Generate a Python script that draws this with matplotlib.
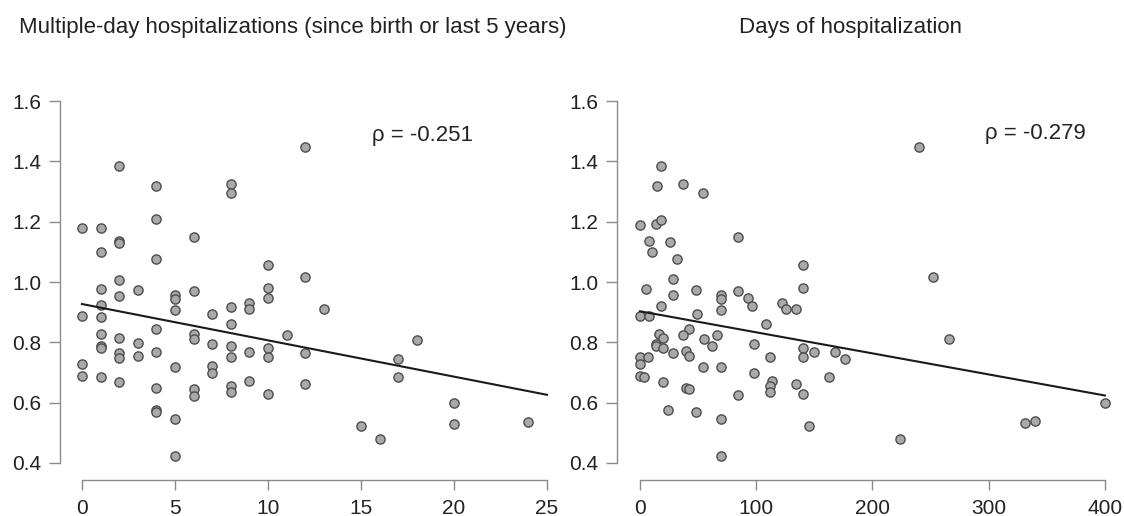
import matplotlib
matplotlib.use("Agg")
import matplotlib.pyplot as plt
import numpy as np

plt.rcParams['font.family'] = ['Liberation Sans', 'DejaVu Sans']

# ---- data: left panel (number of multiple-day hospitalizations) ----
left_x = [0, 0, 0, 0,
          1, 1, 1, 1, 1, 1, 1, 1, 1,
          2, 2, 2, 2, 2, 2, 2, 2, 2,
          3, 3, 3,
          4, 4, 4, 4, 4, 4, 4, 4,
          5, 5, 5, 5, 5, 5,
          6, 6, 6, 6, 6, 6,
          7, 7, 7, 7,
          8, 8, 8, 8, 8, 8, 8, 8,
          9, 9, 9, 9,
          10, 10, 10, 10, 10, 10,
          11,
          12, 12, 12, 12,
          13, 15, 16, 17, 17, 18, 20, 20, 24]
left_y = [1.180, 0.888, 0.727, 0.687,
          1.180, 1.100, 0.977, 0.923, 0.885, 0.827, 0.787, 0.781, 0.685,
          1.385, 1.135, 1.128, 1.005, 0.955, 0.816, 0.765, 0.749, 0.668,
          0.973, 0.797, 0.755,
          1.318, 1.208, 1.077, 0.845, 0.768, 0.647, 0.576, 0.569,
          0.957, 0.942, 0.907, 0.718, 0.545, 0.423,
          1.148, 0.969, 0.826, 0.812, 0.646, 0.622,
          0.895, 0.794, 0.721, 0.697,
          1.324, 1.296, 0.918, 0.860, 0.788, 0.753, 0.655, 0.634,
          0.931, 0.909, 0.767, 0.671,
          1.055, 0.979, 0.946, 0.782, 0.752, 0.629,
          0.825,
          1.448, 1.017, 0.765, 0.662,
          0.909, 0.523, 0.481, 0.745, 0.686, 0.808, 0.600, 0.530, 0.536]

# ---- data: right panel (days of hospitalization) ----
right_x = [240, 18, 15, 37, 54, 0, 14, 18, 84, 8, 26, 10, 32, 140, 252, 28,
           5, 28, 48, 140, 70, 70, 70, 84, 93, 96, 122, 126, 134,
           0, 8, 18, 49, 108, 16, 20, 14, 13.5, 19.5, 42, 37, 55, 66, 62, 98,
           28, 40, 42, 0, 7, 0, 0, 3.4, 20, 40, 42, 54, 70, 98, 112,
           140, 140, 150, 168, 114, 112, 112, 134, 140, 163, 84,
           24, 48, 70, 145, 70, 176, 400, 331, 340, 224, 266]
right_y = [1.448, 1.385, 1.318, 1.324, 1.296, 1.188, 1.191, 1.206, 1.148, 1.137,
           1.133, 1.100, 1.077, 1.055, 1.017, 1.010,
           0.977, 0.957, 0.973, 0.980, 0.957, 0.942, 0.907, 0.971, 0.946, 0.920,
           0.931, 0.909, 0.909,
           0.888, 0.888, 0.921, 0.895, 0.860, 0.829, 0.816, 0.796, 0.787, 0.780,
           0.845, 0.825, 0.811, 0.825, 0.788, 0.795,
           0.765, 0.772, 0.755, 0.752, 0.750, 0.727, 0.687, 0.685, 0.668, 0.647,
           0.646, 0.718, 0.718, 0.698, 0.752,
           0.782, 0.752, 0.767, 0.767, 0.672, 0.655, 0.634, 0.662, 0.629, 0.686,
           0.624, 0.577, 0.568, 0.546, 0.523, 0.423, 0.746, 0.600, 0.531, 0.538,
           0.481, 0.810]

# fitted lines (intercept, slope)
left_fit = (0.927, -0.01204)
right_fit = (0.903, -0.000698)

titles = ["Multiple-day hospitalizations (since birth or last 5 years)",
          "Days of hospitalization"]
rho_labels = ["\u03c1 = -0.251", "\u03c1 = -0.279"]
left_xticks = [0, 5, 10, 15, 20, 25]
right_xticks = [0, 100, 200, 300, 400]
yticks = [0.4, 0.6, 0.8, 1.0, 1.2, 1.4, 1.6]

W, H = 1124, 516
fig = plt.figure(figsize=(W / 100, H / 100), dpi=100)

def px_axes(l, t, r, b):
    return fig.add_axes([l / W, 1 - b / H, (r - l) / W, (b - t) / H])

ax1 = px_axes(60, 84, 569, 480)
ax2 = px_axes(617, 84, 1124, 480)

panels = [
    (ax1, left_x, left_y, left_fit, left_xticks, (-1.18, 26.18), (15.6, 1.468), rho_labels[0]),
    (ax2, right_x, right_y, right_fit, right_xticks, (-19.8, 416.5), (296.8, 1.474), rho_labels[1]),
]

spine_col = "#8a8a8a"
for ax, xs, ys, fit, xt, xlim, rho_pos, rho in panels:
    ax.scatter(xs, ys, s=44, facecolor="#a9a9a9", edgecolor="#4d4d4d",
               linewidths=1.0, zorder=3)
    x0, x1 = xt[0], xt[-1]
    fx = np.array([x0, x1])
    ax.plot(fx, fit[0] + fit[1] * fx, color="#1a1a1a", lw=1.5, zorder=4)
    ax.set_xlim(*xlim)
    ax.set_ylim(0.3436, 1.6564)
    ax.set_xticks(xt)
    ax.set_yticks(yticks)
    ax.set_yticklabels([f"{v:.1f}" for v in yticks])
    for side in ("top", "right"):
        ax.spines[side].set_visible(False)
    ax.spines["left"].set_bounds(0.4, 1.6)
    ax.spines["bottom"].set_bounds(x0, x1)
    for side in ("left", "bottom"):
        ax.spines[side].set_color(spine_col)
        ax.spines[side].set_linewidth(1.0)
    ax.tick_params(axis="both", direction="out", color=spine_col, width=1.0,
                   labelsize=15, labelcolor="#222222")
    ax.tick_params(axis="y", length=8, pad=5.5)
    ax.tick_params(axis="x", length=7.2, pad=6.5)
    ax.patch.set_alpha(0)
    ax.text(rho_pos[0], rho_pos[1], rho, fontsize=16, color="#222222",
            ha="left", va="baseline")

fig.text(19 / W, 1 - 33 / H, titles[0], fontsize=16, color="#222222",
         ha="left", va="baseline")
fig.text(739 / W, 1 - 33 / H, titles[1], fontsize=16, color="#222222",
         ha="left", va="baseline")

fig.savefig("out.png", dpi=100)
